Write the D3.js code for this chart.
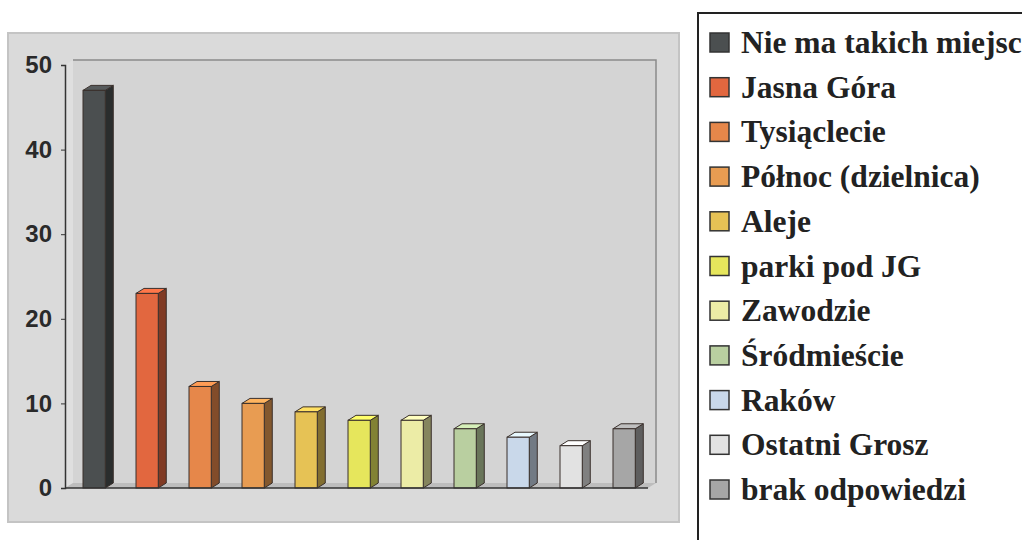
<!DOCTYPE html>
<html>
<head>
<meta charset="utf-8">
<script src="https://cdn.jsdelivr.net/npm/d3@7"></script>
<style>
  html, body { margin: 0; padding: 0; background: #ffffff; }
  svg { display: block; }
</style>
</head>
<body>
<svg id="chart" width="1022" height="540"></svg>
<script>
// Category names (legend order = bar order)
const categories = [
  "Nie ma takich miejsc",
  "Jasna Góra",
  "Tysiąclecie",
  "Północ (dzielnica)",
  "Aleje",
  "parki pod JG",
  "Zawodzie",
  "Śródmieście",
  "Raków",
  "Ostatni Grosz",
  "brak odpowiedzi"
];
// Number of answers per place
const values = [47, 23, 12, 10, 9, 8, 8, 7, 6, 5, 7];
// Fill colour of each category
const colors = [
  "#4b4f50", "#e2673f", "#e6874a", "#e89c52", "#e6c255", "#e6e65c",
  "#ececa6", "#b9cfa0", "#c9d8ea", "#e2e2e2", "#a6a6a6"
];
const yTicks = [0, 10, 20, 30, 40, 50];

const svg = d3.select("#chart");

// Frame
const frame = { x0: 8, y0: 33, x1: 679, y1: 522 };
const plot = { left: 65, right: 648, top: 65, bottom: 488 };
const depth = { dx: 8, dy: -5 };

svg.append("rect")
  .attr("x", frame.x0).attr("y", frame.y0)
  .attr("width", frame.x1 - frame.x0).attr("height", frame.y1 - frame.y0)
  .attr("fill", "#dadada").attr("stroke", "#c4c4c4").attr("stroke-width", 2);

const x = d3.scaleBand().domain(categories).range([plot.left + depth.dx, plot.right + depth.dx]).padding(0);
const y = d3.scaleLinear().domain([0, 50]).range([plot.bottom, plot.top]);

// Back wall
svg.append("rect")
  .attr("x", plot.left + depth.dx).attr("y", y(50) + depth.dy)
  .attr("width", plot.right - plot.left).attr("height", plot.bottom - plot.top)
  .attr("fill", "#d4d4d4");
// Side wall
svg.append("path")
  .attr("d", `M${plot.left},${y(50)} L${plot.left + depth.dx},${y(50) + depth.dy} L${plot.left + depth.dx},${plot.bottom + depth.dy} L${plot.left},${plot.bottom} Z`)
  .attr("fill", "#dfdfdf");
// Floor
svg.append("path")
  .attr("d", `M${plot.left},${plot.bottom} L${plot.left + depth.dx},${plot.bottom + depth.dy} L${plot.right + depth.dx},${plot.bottom + depth.dy} L${plot.right},${plot.bottom} Z`)
  .attr("fill", "#bdbdbd");
// Wall edges
svg.append("path")
  .attr("d", `M${plot.left + depth.dx},${y(50) + depth.dy} L${plot.right + depth.dx},${y(50) + depth.dy} L${plot.right + depth.dx},${plot.bottom + depth.dy}`)
  .attr("fill", "none").attr("stroke", "#8a8a8a").attr("stroke-width", 1.5);

// Bars (front, side, top)
const bw = x.bandwidth() * 0.42;
const off = x.bandwidth() * 0.17;
const bars = svg.append("g").selectAll("g").data(categories).join("g");
bars.each(function(c, i) {
  const g = d3.select(this);
  const x0 = x(c) + off + 1;
  const x1 = x0 + bw;
  const yt = y(values[i]);
  const yb = y(0);
  const col = d3.color(colors[i]);
  g.append("path")
    .attr("d", `M${x1},${yt} L${x1 + depth.dx},${yt + depth.dy} L${x1 + depth.dx},${yb + depth.dy} L${x1},${yb} Z`)
    .attr("fill", col.darker(1.6)).attr("stroke", "#3a302c").attr("stroke-width", 1);
  g.append("path")
    .attr("d", `M${x0},${yt} L${x0 + depth.dx},${yt + depth.dy} L${x1 + depth.dx},${yt + depth.dy} L${x1},${yt} Z`)
    .attr("fill", col.brighter(0.4)).attr("stroke", "#3a302c").attr("stroke-width", 1);
  g.append("rect")
    .attr("x", x0).attr("y", yt).attr("width", bw).attr("height", yb - yt)
    .attr("fill", col).attr("stroke", "#3a302c").attr("stroke-width", 1);
});

// Baseline
svg.append("line")
  .attr("x1", plot.left).attr("x2", plot.right)
  .attr("y1", plot.bottom).attr("y2", plot.bottom)
  .attr("stroke", "#333").attr("stroke-width", 1.5);

// Y axis
const yAxis = svg.append("g")
  .attr("transform", `translate(${plot.left},0)`)
  .call(d3.axisLeft(y).tickValues(yTicks).tickSize(4).tickPadding(9).tickFormat(d3.format("d")));
yAxis.select(".domain").attr("stroke", "#333").attr("stroke-width", 1.5);
yAxis.selectAll(".tick line").attr("stroke", "#333");
yAxis.selectAll(".tick text")
  .attr("font-family", "Arial, 'Liberation Sans', sans-serif")
  .attr("font-weight", "bold").attr("font-size", 24).attr("fill", "#2a2a2a");

// Legend
const lg = { x: 698, y: 13, rowY: 42, step: 44.7 };
svg.append("path")
  .attr("d", `M1022,${lg.y} L${lg.x},${lg.y} L${lg.x},540`)
  .attr("fill", "none").attr("stroke", "#222").attr("stroke-width", 2);
const items = svg.append("g").selectAll("g").data(categories).join("g")
  .attr("transform", (d, i) => `translate(${lg.x}, ${lg.rowY + i * lg.step})`);
items.append("rect")
  .attr("x", 12).attr("y", -9).attr("width", 19).attr("height", 19)
  .attr("fill", (d, i) => colors[i]).attr("stroke", "#333").attr("stroke-width", 1.5);
items.append("text")
  .attr("x", 43).attr("y", 11)
  .attr("font-family", "'Liberation Serif', 'Times New Roman', serif")
  .attr("font-weight", "bold").attr("font-size", 31.5).attr("fill", "#222")
  .text(d => d);
</script>
</body>
</html>
